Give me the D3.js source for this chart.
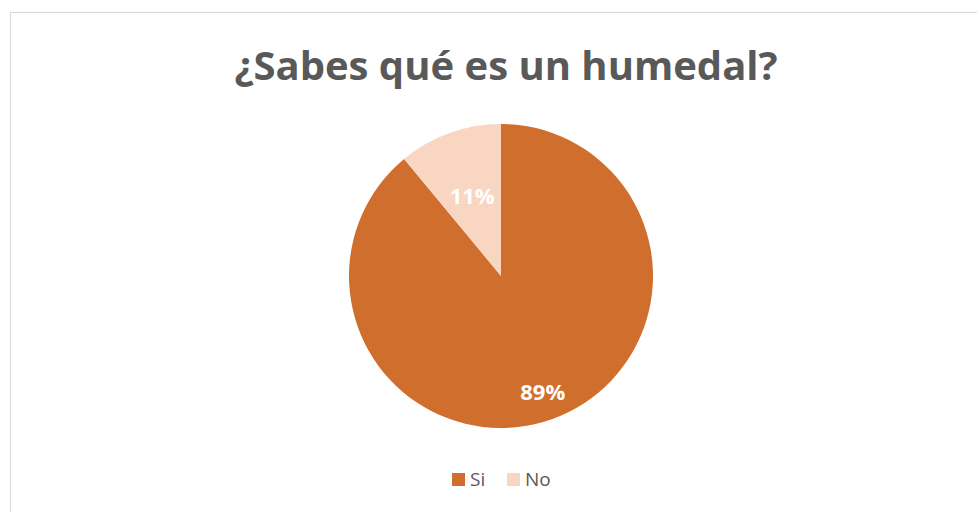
<!DOCTYPE html>
<html>
<head>
<meta charset="utf-8">
<script src="https://cdn.jsdelivr.net/npm/d3@7"></script>
<style>
  body { margin: 0; background: #fff; }
  text { font-family: "Open Sans", "Liberation Sans", sans-serif; }
</style>
</head>
<body>
<div id="pie"></div>
<script>
// data
const categories = ["Si", "No"];
const values = [89, 11];
const colors = ["#D06F2D", "#F8D6C1"];

const width = 977;
const height = 512;

const svg = d3.select("#pie")
  .append("svg")
  .attr("width", width)
  .attr("height", height);

// chart area border
svg.append("rect")
  .attr("x", 10.5)
  .attr("y", 12.5)
  .attr("width", 980)
  .attr("height", 520)
  .attr("fill", "none")
  .attr("stroke", "#d9d9d9")
  .attr("stroke-width", 1);

// title
svg.append("text")
  .attr("x", 506)
  .attr("y", 80)
  .attr("text-anchor", "middle")
  .style("font-size", "40px")
  .style("font-weight", "bold")
  .attr("fill", "#595959")
  .text("¿Sabes qué es un humedal?");

const radius = 152;
const data = categories.map((c, i) => ({ name: c, value: values[i] }));

const pie = d3.pie()
  .sort(null)
  .value(d => d.value);

const arc = d3.arc()
  .outerRadius(radius)
  .innerRadius(0);

// label distance as fraction of radius (Excel best fit)
const labelPos = { "Si": 0.81, "No": 0.56 };

const color = d3.scaleOrdinal().domain(categories).range(colors);

const g = svg.append("g")
  .attr("transform", "translate(" + 501 + "," + 276 + ")");

const data_ready = pie(data);

g.selectAll("path")
  .data(data_ready)
  .enter().append("path")
  .attr("d", arc)
  .attr("fill", d => color(d.data.name));

g.selectAll("text.lbl")
  .data(data_ready)
  .enter().append("text")
  .attr("class", "lbl")
  .attr("transform", function(d) {
    const r = radius * labelPos[d.data.name];
    const a = (d.startAngle + d.endAngle) / 2;
    return "translate(" + (r * Math.sin(a)) + "," + (-r * Math.cos(a)) + ")";
  })
  .attr("text-anchor", "middle")
  .attr("dy", "0.35em")
  .style("font-size", "22px")
  .style("font-weight", "bold")
  .attr("fill", "#ffffff")
  .text(d => d.data.value + "%");

// legend
const legend = svg.append("g")
  .attr("transform", "translate(452,473)");

const legItems = legend.selectAll("g")
  .data(categories)
  .enter().append("g")
  .attr("transform", (d, i) => "translate(" + (i * 55) + ",0)");

legItems.append("rect")
  .attr("width", 13)
  .attr("height", 13)
  .attr("fill", d => color(d));

legItems.append("text")
  .attr("x", 18)
  .attr("y", 13)
  .style("font-size", "19px")
  .attr("fill", "#595959")
  .text(d => d);
</script>
</body>
</html>
